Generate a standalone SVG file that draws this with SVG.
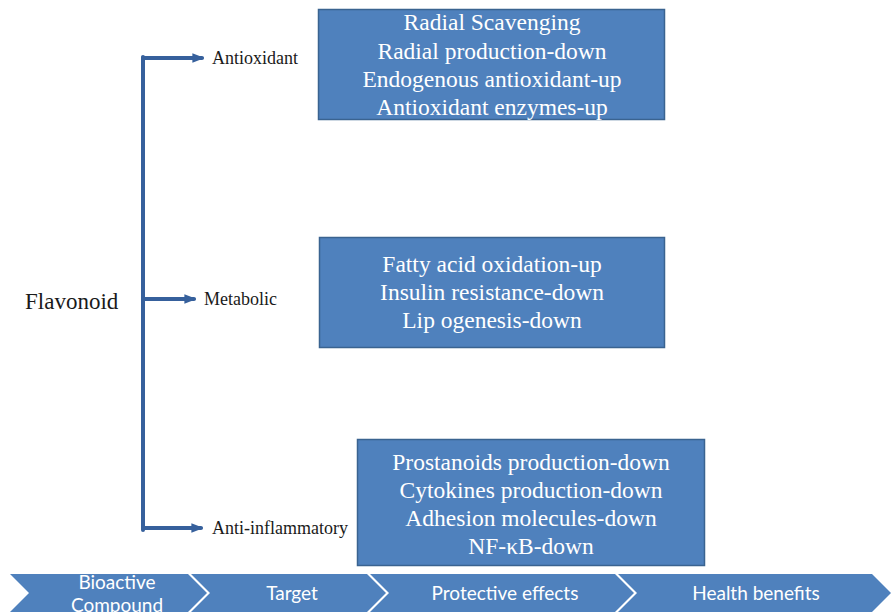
<svg xmlns="http://www.w3.org/2000/svg" width="893" height="612" viewBox="0 0 893 612">
<style>
.box{fill:#4F81BD;stroke:#3A6390;stroke-width:1.5}
.bt{font-family:"Liberation Serif","Times New Roman",serif;font-size:23.5px;fill:#ffffff;text-anchor:middle}
.lbl{font-family:"Liberation Serif","Times New Roman",serif;font-size:18px;fill:#1a1a1a}
.big{font-size:23px}
.chev{fill:#4F81BD}
.ct{font-family:Lato,"Open Sans",sans-serif;font-size:19px;fill:#ffffff;text-anchor:middle}
.ln{stroke:#36609C;stroke-width:4;fill:none;stroke-linecap:round}
</style>
<defs>
<marker id="ah" viewBox="0 0 10 10" refX="8" refY="5" markerWidth="3" markerHeight="3" orient="auto" markerUnits="strokeWidth">
<path d="M0,1 L10,5 L0,9 z" fill="#36609C"/>
</marker>
</defs>
<rect width="893" height="612" fill="#ffffff"/>
<g id="connectors">
<line class="ln" x1="143" y1="57" x2="143" y2="530"/>
<line class="ln" x1="143" y1="58" x2="202" y2="58" marker-end="url(#ah)"/>
<line class="ln" x1="143" y1="299" x2="194" y2="299" marker-end="url(#ah)"/>
<line class="ln" x1="143" y1="528" x2="201" y2="528" marker-end="url(#ah)"/>
</g>
<g id="flavonoid"><text class="lbl big" x="25" y="309">Flavonoid</text></g>
<g id="antioxidant"><text class="lbl" x="212" y="64">Antioxidant</text></g>
<g id="metabolic"><text class="lbl" x="204" y="305">Metabolic</text></g>
<g id="antiinflammatory"><text class="lbl" x="212" y="534">Anti-inflammatory</text></g>
<g id="box-antioxidant">
<rect class="box" x="318.5" y="9.5" width="346" height="110"/>
<text class="bt" x="492" y="30">Radial Scavenging</text>
<text class="bt" x="492" y="58.5">Radial production-down</text>
<text class="bt" x="492" y="87">Endogenous antioxidant-up</text>
<text class="bt" x="492" y="115">Antioxidant enzymes-up</text>
</g>
<g id="box-metabolic">
<rect class="box" x="319.5" y="237.5" width="345" height="110"/>
<text class="bt" x="492" y="272">Fatty acid oxidation-up</text>
<text class="bt" x="492" y="300">Insulin resistance-down</text>
<text class="bt" x="492" y="328">Lip ogenesis-down</text>
</g>
<g id="box-antiinflammatory">
<rect class="box" x="357.5" y="439.5" width="347" height="126"/>
<text class="bt" x="531" y="470">Prostanoids production-down</text>
<text class="bt" x="531" y="498">Cytokines production-down</text>
<text class="bt" x="531" y="526">Adhesion molecules-down</text>
<text class="bt" x="531" y="554">NF-κB-down</text>
</g>
<g id="chevron-bioactive">
<path class="chev" d="M10,574 L188,574 L207,593 L188,612 L10,612 L29,593 Z"/>
<text class="ct" x="117" y="589">Bioactive</text>
<text class="ct" x="117" y="612">Compound</text>
</g>
<g id="chevron-target">
<path class="chev" d="M191,574 L367,574 L386,593 L367,612 L191,612 L210,593 Z"/>
<text class="ct" x="292" y="600">Target</text>
</g>
<g id="chevron-protective">
<path class="chev" d="M370,574 L615,574 L634,593 L615,612 L370,612 L389,593 Z"/>
<text class="ct" x="505" y="600">Protective effects</text>
</g>
<g id="chevron-health">
<path class="chev" d="M618,574 L872,574 L891,593 L872,612 L618,612 L637,593 Z"/>
<text class="ct" x="756" y="600">Health benefits</text>
</g>
</svg>
